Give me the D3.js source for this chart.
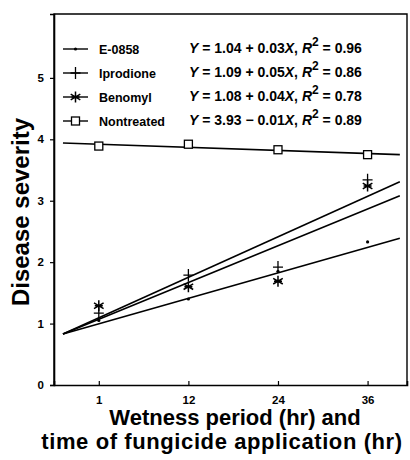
<!DOCTYPE html>
<html>
<head>
<meta charset="utf-8">
<script src="https://cdn.jsdelivr.net/npm/d3@7"></script>
<style>
  body { margin: 0; background: #fff; }
  text { font-family: "Liberation Sans", Arial, Helvetica, sans-serif; fill: #000; }
</style>
</head>
<body>
<div id="chart"></div>
<script>
// Data
var hours = [1, 12, 24, 36];
var seriesNames = ["E-0858", "Iprodione", "Benomyl", "Nontreated"];
var e0858 = [1.05, 1.40, 1.85, 2.33];
var iprodione = [1.17, 1.79, 1.92, 3.34];
var benomyl = [1.29, 1.60, 1.69, 3.24];
var nontreated = [3.89, 3.92, 3.83, 3.75];
// fitted lines: value at left start and right end of each line
var fitStart = [0.83, 0.83, 0.83, 3.94];
var fitEnd = [2.39, 3.31, 3.08, 3.75];
var fitFrom = -0.4, fitTo = 3.36; // x positions in tick-index units
var intercepts = ["1.04", "1.09", "1.08", "3.93"];
var slopes = ["+ 0.03", "+ 0.05", "+ 0.04", "\u2212 0.01"];
var r2 = ["0.96", "0.86", "0.78", "0.89"];
var yTicks = [0, 1, 2, 3, 4, 5];

var svgWidth = 410;
var svgHeight = 460;

var margin = { top: 14, right: 3, bottom: 75, left: 54 };
var chartWidth = svgWidth - margin.left - margin.right;
var chartHeight = svgHeight - margin.top - margin.bottom;

var svg = d3.select("#chart")
  .append("svg")
  .attr("width", svgWidth)
  .attr("height", svgHeight);

var chart = svg.append("g")
  .attr("transform", `translate(${margin.left}, ${margin.top})`);

// Scales (x ticks are evenly spaced, so use tick index)
var x = d3.scaleLinear().domain([-0.5, 3.44]).range([0, chartWidth]);
var y = d3.scaleLinear().domain([0, 6.04]).range([chartHeight, 0]);

var values = [e0858, iprodione, benomyl, nontreated];

// Frame
chart.append("path")
  .attr("d", `M0,${chartHeight}V0H${chartWidth}V${chartHeight}`)
  .attr("fill", "none")
  .attr("stroke", "#000")
  .attr("stroke-width", 1.4);

// Axes
var bottomAxis = d3.axisBottom(x)
  .tickValues(d3.range(hours.length))
  .tickSize(-4)
  .tickPadding(11)
  .tickFormat(function(d) { return hours[d]; });
var leftAxis = d3.axisLeft(y)
  .tickValues(yTicks)
  .tickSize(4)
  .tickPadding(6)
  .tickFormat(d3.format("d"));

var xg = chart.append("g")
  .attr("transform", `translate(0, ${chartHeight})`)
  .call(bottomAxis);
var yg = chart.append("g").call(leftAxis);

[xg, yg].forEach(function(g) {
  g.select(".domain").attr("stroke-width", 1.6);
  g.selectAll(".tick line").attr("stroke-width", 1.2);
  g.selectAll("text")
    .style("font-size", "11.5px")
    .style("font-weight", "bold")
    .style("font-family", "'Liberation Sans', Arial, sans-serif");
});

// Fitted lines
chart.selectAll(".fit")
  .data(seriesNames)
  .enter().append("line")
  .attr("class", "fit")
  .attr("x1", x(fitFrom))
  .attr("x2", x(fitTo))
  .attr("y1", function(d, i) { return y(fitStart[i]); })
  .attr("y2", function(d, i) { return y(fitEnd[i]); })
  .attr("stroke", "#000")
  .attr("stroke-width", 1.6);

// Marker drawing
function drawMarker(g, kind) {
  if (kind === 0) {
    g.append("circle").attr("r", 1.6).attr("fill", "#000");
  } else if (kind === 1) {
    g.append("path").attr("d", "M-5,0H5M0,-6V6")
      .attr("stroke", "#000").attr("stroke-width", 1.3);
  } else if (kind === 2) {
    g.append("path").attr("d", "M0,-5.5V5.5M-4.8,-2.8L4.8,2.8M-4.8,2.8L4.8,-2.8M-4,0H4")
      .attr("stroke", "#000").attr("stroke-width", 1.5);
  } else {
    g.append("rect").attr("x", -4).attr("y", -4).attr("width", 8).attr("height", 8)
      .attr("fill", "#fff").attr("stroke", "#000").attr("stroke-width", 1.3);
  }
}

values.forEach(function(vals, s) {
  chart.selectAll(".pt" + s)
    .data(vals)
    .enter().append("g")
    .attr("class", "pt" + s)
    .attr("transform", function(d, i) { return `translate(${x(i)}, ${y(d)})`; })
    .each(function() { drawMarker(d3.select(this), s); });
});

// Legend
var legendRows = [49, 73, 97, 121];
seriesNames.forEach(function(name, i) {
  var row = svg.append("g").attr("transform", `translate(0, ${legendRows[i]})`);
  row.append("line").attr("x1", 63).attr("x2", 88)
    .attr("stroke", "#000").attr("stroke-width", 1.4);
  var m = row.append("g").attr("transform", "translate(75.5, 0)");
  drawMarker(m, i);
  row.append("text")
    .attr("x", 99).attr("y", 4.5)
    .style("font-size", "12.5px")
    .style("font-weight", "bold")
    .text(name);
  var eq = row.append("text")
    .attr("x", 189).attr("y", 4)
    .style("font-size", "14px")
    .style("font-weight", "bold");
  eq.append("tspan").style("font-style", "italic").text("Y");
  eq.append("tspan").text(" = " + intercepts[i] + " " + slopes[i]);
  eq.append("tspan").style("font-style", "italic").text("X");
  eq.append("tspan").text(", ");
  eq.append("tspan").style("font-style", "italic").text("R");
  eq.append("tspan").attr("dy", -7).style("font-size", "12px").text("2");
  eq.append("tspan").attr("dy", 7).text(" = " + r2[i]);
});

// Text for the y-axis
svg.append("text")
  .attr("transform", "translate(29, 212) rotate(-90)")
  .style("text-anchor", "middle")
  .style("font-size", "24px")
  .style("font-weight", "bold")
  .text("Disease severity");

// Text for the x-axis
svg.append("text")
  .attr("x", 235).attr("y", 425)
  .style("text-anchor", "middle")
  .style("font-size", "22px")
  .style("font-weight", "bold")
  .text("Wetness period (hr) and");
svg.append("text")
  .attr("x", 222).attr("y", 449)
  .style("text-anchor", "middle")
  .style("font-size", "22px")
  .style("font-weight", "bold")
  .style("letter-spacing", "0.6px")
  .text("time of fungicide application (hr)");
</script>
</body>
</html>
